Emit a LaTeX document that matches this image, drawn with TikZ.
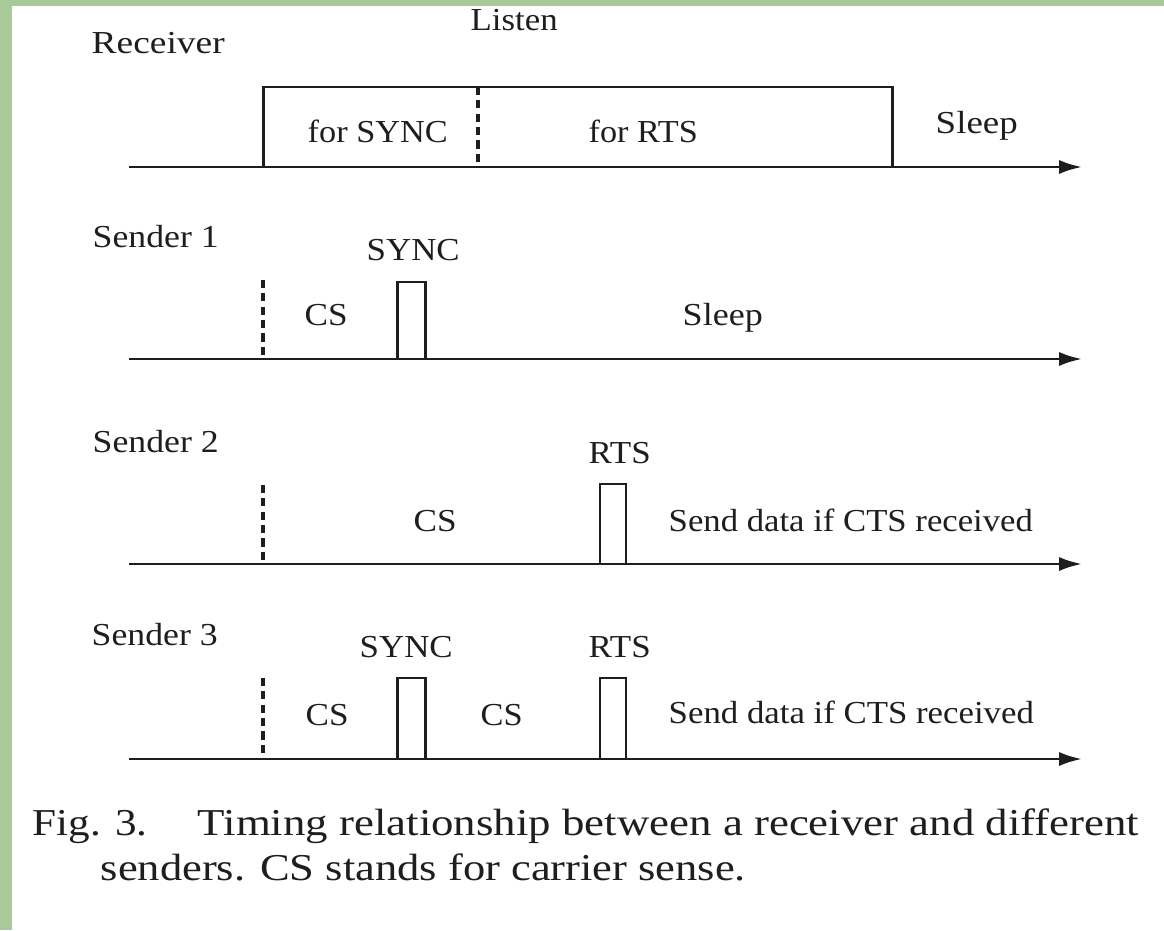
\documentclass[tikz,border=0pt]{standalone}
\usepackage{fontspec}
\setmainfont{Liberation Serif}
\usetikzlibrary{arrows.meta}
\newcommand\sx[2]{\resizebox{#1}{\height}{#2}}
\definecolor{bggreen}{RGB}{168,202,152}
\definecolor{ink}{RGB}{30,30,30}
\begin{document}
\begin{tikzpicture}[x=0.01cm,y=-0.01cm,
  lbl/.style={anchor=base west,inner sep=0pt,text=ink,font=\fontsize{9.1}{11}\selectfont},
  captxt/.style={anchor=base west,inner sep=0pt,text=ink,font=\fontsize{10.8}{13}\selectfont},
  wire/.style={line width=0.8pt,draw=ink},
  axisln/.style={wire,-{Latex[length=6.5pt,width=4pt]}},
  dashln/.style={line width=1pt,draw=ink,dash pattern=on 2.3pt off 1.5pt},
  pulse/.style={wire,line join=miter}]
\useasboundingbox (0,0) rectangle (1164,930);
\fill[bggreen] (0,0) rectangle (1164,930);
\fill[white] (12,6) rectangle (1164,930);

% axes
\foreach \n/\y in {r/167,a/359,b/564,c/759}{
  \coordinate (\n s) at (129,\y);
  \coordinate (\n e) at (1082,\y);
}
\draw[axisln] (rs) -- (re);
\draw[axisln] (as) -- (ae);
\draw[axisln] (bs) -- (be);
\draw[axisln] (cs) -- (ce);

% receiver
\draw[pulse] (263.5,167) -- (263.5,87) -- (892.7,87) -- (892.7,167);
\draw[dashln] (478,87) -- (478,167);
\node[lbl] (recv) at (91,53) {\sx{1.33cm}{Receiver}};
\node[lbl] (listen) at (470,30) {\sx{0.87cm}{Listen}};
\node[lbl] (fsync) at (307,142) {\sx{1.40cm}{for SYNC}};
\node[lbl] (frts) at (588,142) {\sx{1.09cm}{for RTS}};
\node[lbl] (rsleep) at (935,133) {\sx{0.82cm}{Sleep}};

% sender 1
\draw[dashln] (263,280) -- (263,359);
\draw[pulse] (397.5,359) -- (397.5,282) -- (425.5,282) -- (425.5,359);
\node[lbl] (s1) at (92,247) {\sx{1.26cm}{Sender 1}};
\node[lbl] (s1sync) at (366,260) {\sx{0.93cm}{SYNC}};
\node[lbl] (s1cs) at (304,325) {\sx{0.43cm}{CS}};
\node[lbl] (s1sleep) at (682,325) {\sx{0.80cm}{Sleep}};

% sender 2
\draw[dashln] (263,485) -- (263,564);
\draw[pulse] (600,564) -- (600,484) -- (626,484) -- (626,564);
\node[lbl] (s2) at (92,452) {\sx{1.26cm}{Sender 2}};
\node[lbl] (s2cs) at (413,531) {\sx{0.43cm}{CS}};
\node[lbl] (s2rts) at (588,463) {\sx{0.62cm}{RTS}};
\node[lbl] (s2send) at (668,531) {\sx{3.64cm}{Send data if CTS received}};

% sender 3
\draw[dashln] (263,678) -- (263,759);
\draw[pulse] (397.5,759) -- (397.5,678) -- (425.5,678) -- (425.5,759);
\draw[pulse] (600,759) -- (600,678) -- (626,678) -- (626,759);
\node[lbl] (s3) at (91,645) {\sx{1.26cm}{Sender 3}};
\node[lbl] (s3sync) at (359,657) {\sx{0.93cm}{SYNC}};
\node[lbl] (s3rts) at (588,657) {\sx{0.62cm}{RTS}};
\node[lbl] (s3csa) at (305,725) {\sx{0.43cm}{CS}};
\node[lbl] (s3csb) at (480,725) {\sx{0.42cm}{CS}};
\node[lbl] (s3send) at (668,723) {\sx{3.65cm}{Send data if CTS received}};

% caption
\node[captxt] (fig) at (32,835) {\sx{1.15cm}{Fig. 3.}};
\node[captxt] (capa) at (197,835) {\sx{9.41cm}{Timing relationship between a receiver and different}};
\node[captxt] (capb) at (100,880) {\sx{6.45cm}{senders. CS stands for carrier sense.}};
\end{tikzpicture}
\end{document}
